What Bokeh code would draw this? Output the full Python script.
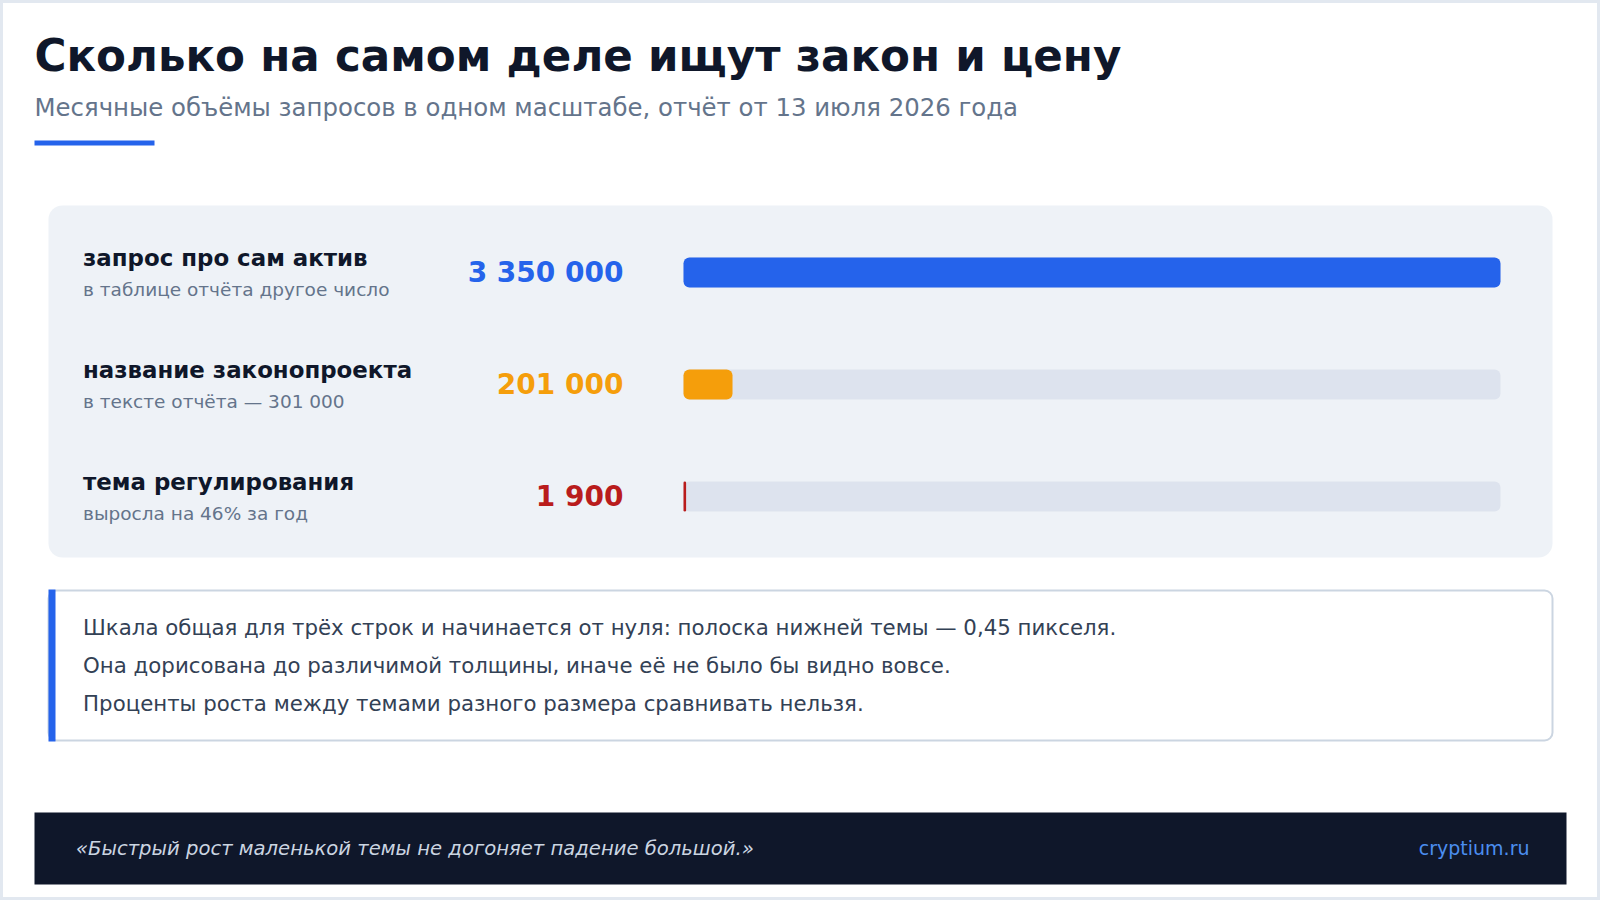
from bokeh.plotting import figure
from bokeh.models import Range1d, ColumnDataSource
from bokeh.core.properties import value
from bokeh.embed import file_html
from bokeh.resources import INLINE

# ---------------- data ----------------
title_text = ["Сколько на самом деле ищут закон и цену"]
subtitle_text = ["Месячные объёмы запросов в одном масштабе, отчёт от 13 июля 2026 года"]
topics = ["запрос про сам актив", "название законопроекта", "тема регулирования"]
topic_notes = ["в таблице отчёта другое число", "в тексте отчёта — 301 000", "выросла на 46% за год"]
volumes = [3350000, 201000, 1900]
bar_colors = ["#2563eb", "#f59e0b", "#b91c1c"]
note_lines = [
    "Шкала общая для трёх строк и начинается от нуля: полоска нижней темы — 0,45 пикселя.",
    "Она дорисована до различимой толщины, иначе её не было бы видно вовсе.",
    "Проценты роста между темами разного размера сравнивать нельзя.",
]
footer_quote = ["«Быстрый рост маленькой темы не догоняет падение большой.»"]
footer_brand = ["cryptium.ru"]

# ---------------- layout ----------------
W, H = 1600, 900
FONT = "DejaVu Sans"
BAR_X0, BAR_X1 = 683, 1500      # pixel span of the value scale
ROW_Y0, ROW_STEP = 272, 112     # pixel centre of first row, row spacing
BAR_H = 30
MIN_BAR_PX = 2.6

vmax = max(volumes)
upp = vmax / (BAR_X1 - BAR_X0)

p = figure(width=W, height=H, x_range=Range1d(0, W), y_range=Range1d(H, 0),
           output_backend="svg", toolbar_location=None, min_border=0,
           x_axis_location=None, y_axis_location=None,
           outline_line_color="#e2e8f0", outline_line_width=5,
           background_fill_color="white", border_fill_color="white")
p.grid.visible = False
p.extra_x_ranges = {"val": Range1d(-BAR_X0 * upp, (W - BAR_X0) * upp)}
p.extra_y_ranges = {"row": Range1d((H - ROW_Y0) / ROW_STEP, -ROW_Y0 / ROW_STEP)}

# header
p.text(x=[34], y=[55.5], text=title_text, text_font=value(FONT), text_font_size="43.6px",
       text_font_style="bold", text_color="#0f172a", text_baseline="alphabetic")
p.text(x=[34], y=[107], text=subtitle_text, text_font=value(FONT), text_font_size="24.4px",
       text_color="#64748b", text_baseline="alphabetic")
p.quad(left=[34], right=[154], top=[140], bottom=[145], fill_color="#2563eb", line_color=None)

# panel
p.quad(left=[48], right=[1552], top=[205], bottom=[557], fill_color="#eef2f7",
       line_color=None, border_radius=14)

n = len(volumes)
src = ColumnDataSource(dict(
    y=list(range(n)),
    topic=topics,
    note=topic_notes,
    vol=volumes,
    shown=[max(v, MIN_BAR_PX * upp) for v in volumes],
    full=[vmax] * n,
    zero=[0] * n,
    label=[f"{v:,}".replace(",", " ") for v in volumes],
    color=bar_colors,
))

bh = BAR_H / ROW_STEP
p.hbar(y="y", left="zero", right="full", height=bh, source=src, fill_color="#dde3ee",
       line_color=None, border_radius=6, x_range_name="val", y_range_name="row")
p.hbar(y="y", left="zero", right="shown", height=bh, source=src, fill_color="color",
       line_color=None, border_radius=6, x_range_name="val", y_range_name="row")

p.text(x=82.5, y="y", text="topic", source=src, y_range_name="row", y_offset=-15,
       text_font=value(FONT), text_font_size="22.9px", text_font_style="bold",
       text_color="#0f172a", text_baseline="alphabetic")
p.text(x=82.5, y="y", text="note", source=src, y_range_name="row", y_offset=17,
       text_font=value(FONT), text_font_size="18.5px", text_color="#64748b",
       text_baseline="alphabetic")
p.text(x=623, y="y", text="label", source=src, y_range_name="row", y_offset=0,
       text_font=value(FONT), text_font_size="28px", text_font_style="bold",
       text_color="color", text_align="right", text_baseline="alphabetic")

# note box
p.quad(left=[48], right=[1552], top=[590], bottom=[740], fill_color="white",
       line_color="#cbd5e1", line_width=2, border_radius=8)
p.quad(left=[48], right=[55], top=[589], bottom=[741], fill_color="#2563eb", line_color=None)
p.text(x=[82.6] * 3, y=[627, 664.7, 702.7], text=note_lines, text_font=value(FONT),
       text_font_size="21.3px", text_color="#334155", text_baseline="alphabetic")

# footer
p.quad(left=[34], right=[1566], top=[812], bottom=[884], fill_color="#0f172a", line_color=None)
p.text(x=[75.4], y=[847.5], text=footer_quote, text_font=value(FONT), text_font_size="19.6px",
       text_font_style="italic", text_color="#cbd5e1", text_baseline="alphabetic")
p.text(x=[1529], y=[847.5], text=footer_brand, text_font=value(FONT), text_font_size="19px",
       text_color="#4b8ef0", text_align="right", text_baseline="alphabetic")

open("out.html", "w").write(file_html(p, INLINE, title="chart"))
